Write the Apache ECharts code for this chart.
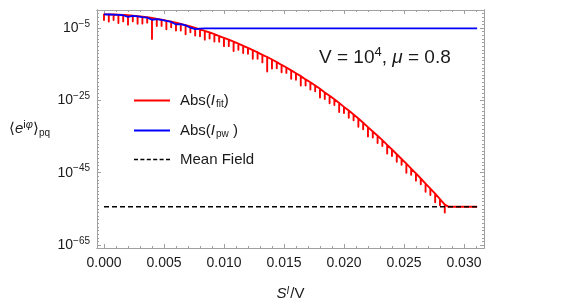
<!DOCTYPE html>
<html><head><meta charset="utf-8">
<script src="https://cdn.jsdelivr.net/npm/echarts@6/dist/echarts.min.js"></script>
<style>html,body{margin:0;padding:0;background:#fff}#c{width:581px;height:307px}</style>
</head><body><div id="c"></div>
<script>
// ---- tick values ----
const xMajorTicks = [0, 0.005, 0.01, 0.015, 0.02, 0.025, 0.03];
const xMinorTicks = [0,0.001,0.002,0.003,0.004,0.005,0.006,0.007,0.008,0.009,0.01,0.011,0.012,0.013,0.014,0.015,0.016,0.017,0.018,0.019,0.02,0.021,0.022,0.023,0.024,0.025,0.026,0.027,0.028,0.029,0.03,0.031];
const yMajorTicks = [-65, -45, -25, -5];   // log10 exponents
const yMinorTicks = [-65,-64,-63,-62,-61,-60,-59,-58,-57,-56,-55,-54,-53,-52,-51,-50,-49,-48,-47,-46,-45,-44,-43,-42,-41,-40,-39,-38,-37,-36,-35,-34,-33,-32,-31,-30,-29,-28,-27,-26,-25,-24,-23,-22,-21,-20,-19,-18,-17,-16,-15,-14,-13,-12,-11,-10,-9,-8,-7,-6,-5,-4,-3,-2,-1];

// ---- data (log10 of the plotted quantity) ----
const redX = [0,0.0004,0.0008,0.0012,0.0016,0.0020,0.0024,0.0028,0.0032,0.0036,0.0040,0.0044,0.0048,0.0052,0.0056,0.0060,0.0064,0.0068,0.0072,0.0076,0.0080,0.0084,0.0088,0.0092,0.0096,0.0100,0.0104,0.0108,0.0112,0.0116,0.0120,0.0124,0.0128,0.0132,0.0136,0.0140,0.0144,0.0148,0.0152,0.0156,0.0160,0.0164,0.0168,0.0172,0.0176,0.0180,0.0184,0.0188,0.0192,0.0196,0.0200,0.0204,0.0208,0.0212,0.0216,0.0220,0.0224,0.0228,0.0232,0.0236,0.0240,0.0244,0.0248,0.0252,0.0256,0.0260,0.0264,0.0268,0.0272,0.0276,0.0280,0.0284,0.0287,0.0311];
const redTop = [-1.2,-1.2,-1.25,-1.3,-1.35,-1.45,-1.55,-1.7,-1.85,-2.0,-2.2,-2.45,-2.7,-2.95,-3.2,-3.5,-3.85,-4.2,-4.55,-4.95,-5.35,-5.8,-6.2,-6.7,-7.2,-7.7,-8.2,-8.75,-9.3,-9.9,-10.5,-11.1,-11.7,-12.4,-13.0,-13.7,-14.4,-15.2,-15.9,-16.7,-17.5,-18.3,-19.2,-20.0,-20.9,-21.8,-22.8,-23.7,-24.7,-25.7,-26.8,-27.8,-28.9,-30.0,-31.2,-32.4,-33.6,-34.8,-36.0,-37.3,-38.6,-39.9,-41.2,-42.5,-43.9,-45.2,-46.6,-48.0,-49.4,-50.8,-52.3,-53.8,-54.4,-54.4];
const redDip = [-2.8,-3.2,-2.75,-3.6,-3.15,-4.05,-3.15,-3.8,-3.75,-3.5,-8.0,-4.45,-4.4,-5.35,-4.8,-5.7,-5.65,-6.7,-6.15,-7.05,-7.25,-8.2,-7.9,-8.7,-8.8,-10.0,-10.0,-11.35,-11.0,-11.9,-12.1,-13.5,-13.5,-14.5,-17.0,-16.2,-16.1,-17.2,-17.4,-19.0,-19.3,-20.9,-20.9,-22.0,-22.5,-24.2,-24.6,-25.8,-26.3,-28.2,-28.5,-29.8,-30.5,-32.3,-33.0,-35.0,-35.3,-36.8,-37.6,-39.7,-40.4,-42.0,-42.8,-45.0,-45.6,-47.2,-48.2,-50.3,-51.2,-53.2,-54.0,-56.0,null,null];
const blueX = [0,0.0004,0.0008,0.0012,0.0016,0.0020,0.0024,0.0028,0.0032,0.0036,0.0040,0.0044,0.0048,0.0052,0.0056,0.0060,0.0064,0.0068,0.0072,0.0076,0.0080,0.0084,0.0311];
const blueY = [-1.2,-1.25,-1.3,-1.35,-1.45,-1.9,-1.6,-1.75,-1.95,-2.1,-2.7,-2.5,-2.75,-3.0,-3.3,-4.0,-3.9,-4.25,-4.9,-5.3,-5.15,-5.1,-5.1];
const meanX = [0, 0.0311];
const meanY = [-54.4, -54.4];

const FONT = '"Liberation Sans", Arial, sans-serif';
const FRAME = '#a0a0a0';
const TXT = '#1a1a1a';

const redData = [];
redX.forEach((x, i) => {
  redData.push([x, redTop[i]]);
  if (redDip[i] !== null) { redData.push([x, redDip[i]]); redData.push([x, redTop[i]]); }
});
const blueData = blueX.map((x, i) => [x, blueY[i]]);
const meanData = meanX.map((x, i) => [x, meanY[i]]);

const XMIN = -0.000583, XMAX = 0.03167, YMIN = -65.83, YMAX = 0;

function xAx(grid, pos, ticks, len, labels) {
  return {
    type: 'value', gridIndex: grid, position: pos, min: XMIN, max: XMAX,
    axisLine: { show: true, onZero: false, lineStyle: { color: FRAME, width: 1 } },
    axisTick: { show: true, inside: true, length: len, customValues: ticks, lineStyle: { color: FRAME, width: 1 } },
    axisLabel: labels ? { show: true, customValues: xMajorTicks, margin: 8, fontSize: 14, fontFamily: FONT, color: TXT,
      formatter: v => v.toFixed(3) } : { show: false },
    splitLine: { show: false },
    name: labels ? '{i|S}{si|I}{n|/V}' : '',
    nameLocation: 'middle', nameGap: 38,
    nameTextStyle: { fontFamily: FONT, color: TXT, rich: {
      i: { fontSize: 15, fontStyle: 'italic', fontFamily: FONT, color: TXT },
      si: { fontSize: 10, fontStyle: 'italic', fontFamily: FONT, color: TXT, verticalAlign: 'top', padding: [0, 1, 6, 0] },
      n: { fontSize: 15, fontFamily: FONT, color: TXT } } }
  };
}
function yAx(grid, pos, ticks, len, labels) {
  return {
    type: 'value', gridIndex: grid, position: pos, min: YMIN, max: YMAX,
    axisLine: { show: true, onZero: false, lineStyle: { color: FRAME, width: 1 } },
    axisTick: { show: true, inside: true, length: len, customValues: ticks, lineStyle: { color: FRAME, width: 1 } },
    axisLabel: labels ? { show: true, customValues: yMajorTicks, margin: 7,
      formatter: v => '{b|10}{s|' + String(v).replace('-', '\u2212') + '}',
      rich: {
        b: { fontSize: 14, fontFamily: FONT, color: TXT },
        s: { fontSize: 10, fontFamily: FONT, color: TXT, verticalAlign: 'top', padding: [0, 0, 8, 0] }
      } } : { show: false },
    splitLine: { show: false },
    name: labels ? '{n|\u27E8}{i|e}{s|i}{si|\u03C6}{n|\u27E9}{u|pq}' : '',
    nameLocation: 'middle', nameRotate: 0, nameGap: 47,
    nameTextStyle: { fontFamily: FONT, color: TXT, rich: {
      n: { fontSize: 15, fontFamily: FONT, color: TXT },
      i: { fontSize: 15, fontStyle: 'italic', fontFamily: FONT, color: TXT },
      s: { fontSize: 11, fontFamily: FONT, color: TXT, verticalAlign: 'top', padding: [0, 0, 8, 0] },
      si: { fontSize: 11, fontStyle: 'italic', fontFamily: FONT, color: TXT, verticalAlign: 'top', padding: [0, 0, 8, 0] },
      u: { fontSize: 10, fontFamily: FONT, color: TXT, verticalAlign: 'bottom', padding: [8, 0, 0, 0] } } }
  };
}

const legendRich = {
  n: { fontSize: 15, fontFamily: FONT, color: TXT },
  i: { fontSize: 15, fontStyle: 'italic', fontFamily: FONT, color: TXT },
  u: { fontSize: 10, fontFamily: FONT, color: TXT, verticalAlign: 'bottom', padding: [7, 0, 0, 1] },
  p: { width: 5 }
};
const legendText = {
  'Abs(I_fit)': '{p|}{n|Abs(}{i|I}{u|fit}{n|)}',
  'Abs(I_pw)': '{p|}{n|Abs(}{i|I}{u|pw}{n| )}',
  'Mean Field': '{p|}{n|Mean Field}'
};
const SOLID_ICON = 'path://M0,0H36V1.8H0Z';
const DASH_ICON = 'path://M0,0H4V1.5H0Z M6.4,0H10.4V1.5H6.4Z M12.8,0H16.8V1.5H12.8Z M19.2,0H23.2V1.5H19.2Z M25.6,0H29.6V1.5H25.6Z M32,0H36V1.5H32Z';
function leg(name, top, icon) {
  return { data: [{ name: name, icon: icon }], left: 129, top: top, orient: 'vertical', itemWidth: 36, itemHeight: 14,
    formatter: n => legendText[n], textStyle: { rich: legendRich }, selectedMode: false };
}

const chart = echarts.init(document.getElementById('c'), null, { renderer: 'canvas' });
chart.setOption({
  animation: false,
  backgroundColor: '#fff',
  grid: [
    { left: 97, right: 97, top: 10, bottom: 59 },
    { left: 97, right: 97, top: 10, bottom: 59 }
  ],
  xAxis: [
    xAx(0, 'bottom', xMajorTicks, 4, true),
    xAx(0, 'top', xMajorTicks, 4, false),
    xAx(1, 'bottom', xMinorTicks, 2, false),
    xAx(1, 'top', xMinorTicks, 2, false)
  ],
  yAxis: [
    yAx(0, 'left', yMajorTicks, 4, true),
    yAx(0, 'right', yMajorTicks, 4, false),
    yAx(1, 'left', yMinorTicks, 2, false),
    yAx(1, 'right', yMinorTicks, 2, false)
  ],
  legend: [leg('Abs(I_fit)', 88, SOLID_ICON), leg('Abs(I_pw)', 118, SOLID_ICON), leg('Mean Field', 147, DASH_ICON)],
  graphic: [{
    type: 'text', left: 319, top: 46, silent: true,
    style: {
      text: '{n|V = 10}{s|4}{n|, }{i|\u03BC}{n| = 0.8}',
      rich: {
        n: { fontSize: 19, fontFamily: FONT, fill: TXT },
        i: { fontSize: 19, fontStyle: 'italic', fontFamily: FONT, fill: TXT },
        s: { fontSize: 13, fontFamily: FONT, fill: TXT, verticalAlign: 'top', padding: [0, 0, 10, 0] }
      }
    }
  }],
  series: [
    { name: 'Abs(I_fit)', type: 'line', xAxisIndex: 0, yAxisIndex: 0, data: redData, symbol: 'none',
      lineStyle: { color: '#ff0000', width: 1.9, join: 'round' }, itemStyle: { color: '#ff0000' } },
    { name: 'Abs(I_pw)', type: 'line', xAxisIndex: 0, yAxisIndex: 0, data: blueData, symbol: 'none',
      lineStyle: { color: '#0000ff', width: 1.8, join: 'round' }, itemStyle: { color: '#0000ff' } },
    { name: 'Mean Field', type: 'line', xAxisIndex: 0, yAxisIndex: 0, data: meanData, symbol: 'none',
      lineStyle: { color: '#000000', width: 1.4, type: [5, 3] }, itemStyle: { color: '#000000' } }
  ]
});
</script>
</body></html>
